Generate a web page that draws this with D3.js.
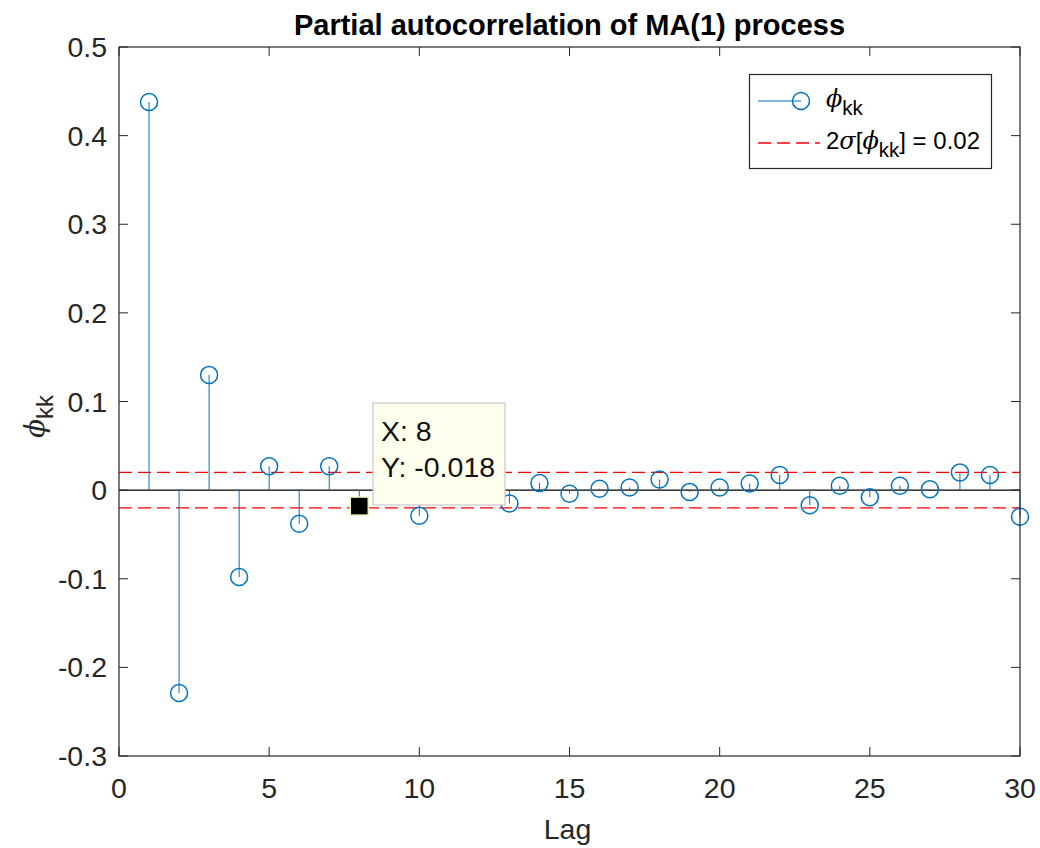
<!DOCTYPE html>
<html><head><meta charset="utf-8">
<script src="https://cdn.jsdelivr.net/npm/d3@7"></script>
<style>body{margin:0;background:#fff}svg{display:block}text{font-family:Arial,"Liberation Sans",Helvetica,sans-serif}</style>
</head><body>
<script>
const lags = [1,2,3,4,5,6,7,8,9,10,11,12,13,14,15,16,17,18,19,20,21,22,23,24,25,26,27,28,29,30];
const pacf = [0.438,-0.229,0.130,-0.098,0.027,-0.038,0.027,-0.018,0.006,-0.029,0.002,0.004,-0.015,0.008,-0.004,0.0015,0.003,0.012,-0.002,0.003,0.0075,0.017,-0.017,0.005,-0.008,0.005,0.001,0.020,0.017,-0.030];
const bound = 0.02;
const xTicks = [0,5,10,15,20,25,30];
const yTicks = [-0.3,-0.2,-0.1,0,0.1,0.2,0.3,0.4,0.5];
const yTickLabels = ["-0.3","-0.2","-0.1","0","0.1","0.2","0.3","0.4","0.5"];
const tipLag = 8, tipVal = "-0.018";

const W=1040,H=848;
const L=119,R=1020,T=47,B=756;
const svg=d3.select("body").append("svg").attr("width",W).attr("height",H);
const x=d3.scaleLinear().domain([0,30]).range([L,R]);
const y=d3.scaleLinear().domain([-0.3,0.5]).range([B,T]);
const axc="#262626", blue="#0072BD";
const FS=28.5;

// baseline
svg.append("line").attr("x1",x(0)).attr("x2",x(30)).attr("y1",y(0)).attr("y2",y(0)).attr("stroke","#000").attr("stroke-width",1.2);
// bounds
[bound,-bound].forEach(b=>svg.append("line").attr("x1",x(0)).attr("x2",x(30)).attr("y1",y(b)).attr("y2",y(b))
  .attr("stroke","#FF0000").attr("stroke-width",1.3).attr("stroke-dasharray","13,6"));
// stems
const g=svg.append("g");
g.selectAll("line.stem").data(lags).join("line").attr("class","stem")
  .attr("x1",d=>x(d)).attr("x2",d=>x(d)).attr("y1",y(0)).attr("y2",(d,i)=>y(pacf[i]))
  .attr("stroke",blue).attr("stroke-width",1);
g.selectAll("circle").data(lags).join("circle")
  .attr("cx",d=>x(d)).attr("cy",(d,i)=>y(pacf[i])).attr("r",8.5)
  .attr("fill","none").attr("stroke",blue).attr("stroke-width",1.5);

// axes box
svg.append("rect").attr("x",L).attr("y",T).attr("width",R-L).attr("height",B-T).attr("fill","none").attr("stroke",axc).attr("stroke-width",1.2);
const tl=9;
xTicks.forEach(t=>{
  svg.append("line").attr("x1",x(t)).attr("x2",x(t)).attr("y1",B).attr("y2",B-tl).attr("stroke",axc);
  svg.append("line").attr("x1",x(t)).attr("x2",x(t)).attr("y1",T).attr("y2",T+tl).attr("stroke",axc);
  svg.append("text").attr("x",x(t)).attr("y",B+42).attr("text-anchor","middle").attr("font-size",FS).attr("fill",axc).text(t);
});
yTicks.forEach((t,i)=>{
  svg.append("line").attr("x1",L).attr("x2",L+tl).attr("y1",y(t)).attr("y2",y(t)).attr("stroke",axc);
  svg.append("line").attr("x1",R).attr("x2",R-tl).attr("y1",y(t)).attr("y2",y(t)).attr("stroke",axc);
  svg.append("text").attr("x",L-12).attr("y",y(t)+10).attr("text-anchor","end").attr("font-size",FS).attr("fill",axc).text(yTickLabels[i]);
});

// title & labels
svg.append("text").attr("x",(L+R)/2).attr("y",35).attr("text-anchor","middle").attr("font-size",29).attr("font-weight","bold").attr("fill","#000").text("Partial autocorrelation of MA(1) process");
svg.append("text").attr("x",(L+R)/2-2).attr("y",839).attr("text-anchor","middle").attr("font-size",FS).attr("fill",axc).text("Lag");
const yl=svg.append("text").attr("transform","translate(44,"+(y(0.083))+") rotate(-90)").attr("text-anchor","middle").attr("fill",axc).attr("font-size",28);
yl.append("tspan").attr("font-style","italic").attr("font-family","'DejaVu Serif',serif").text("\u03d5");
yl.append("tspan").attr("dy",9).attr("font-size",24).text("kk");

// legend
const LF=24;
const lg=svg.append("g");
lg.append("rect").attr("x",749.5).attr("y",74.5).attr("width",242).attr("height",94).attr("fill","#fff").attr("stroke",axc).attr("stroke-width",1.2);
lg.append("line").attr("x1",758).attr("x2",801).attr("y1",101).attr("y2",101).attr("stroke",blue).attr("stroke-width",1.2);
lg.append("circle").attr("cx",801).attr("cy",101).attr("r",8.5).attr("fill","none").attr("stroke",blue).attr("stroke-width",1.5);
const t1=lg.append("text").attr("x",826).attr("y",107).attr("font-size",LF).attr("fill","#000");
t1.append("tspan").attr("font-style","italic").attr("font-family","'DejaVu Serif',serif").text("\u03d5");
t1.append("tspan").attr("dy",8).attr("font-size",20.5).text("kk");
lg.append("line").attr("x1",758).attr("x2",820).attr("y1",143).attr("y2",143).attr("stroke","#FF0000").attr("stroke-width",1.3).attr("stroke-dasharray","13,6");
const t2=lg.append("text").attr("x",826).attr("y",149).attr("font-size",LF).attr("fill","#000");
t2.append("tspan").text("2");
t2.append("tspan").attr("font-style","italic").attr("font-family","'DejaVu Serif',serif").text("\u03c3");
t2.append("tspan").text("[");
t2.append("tspan").attr("font-style","italic").attr("font-family","'DejaVu Serif',serif").text("\u03d5");
t2.append("tspan").attr("dy",8).attr("font-size",20.5).text("kk");
t2.append("tspan").attr("dy",-8).text("] = 0.02");

// datatip
const tx=x(tipLag), ty=y(+tipVal);
svg.append("rect").attr("x",tx-9).attr("y",ty-9).attr("width",18).attr("height",18).attr("fill","#000").attr("stroke","#f5f0c0").attr("stroke-width",1.5);
svg.append("rect").attr("x",373).attr("y",403).attr("width",132).attr("height",102).attr("fill","#FFFFEE").attr("stroke","#C8C8C8").attr("stroke-width",1.2);
svg.append("text").attr("x",381).attr("y",441).attr("font-size",28.5).attr("fill","#111").text("X: "+tipLag);
svg.append("text").attr("x",381).attr("y",477).attr("font-size",28.5).attr("fill","#111").text("Y: "+tipVal);
</script>
</body></html>
